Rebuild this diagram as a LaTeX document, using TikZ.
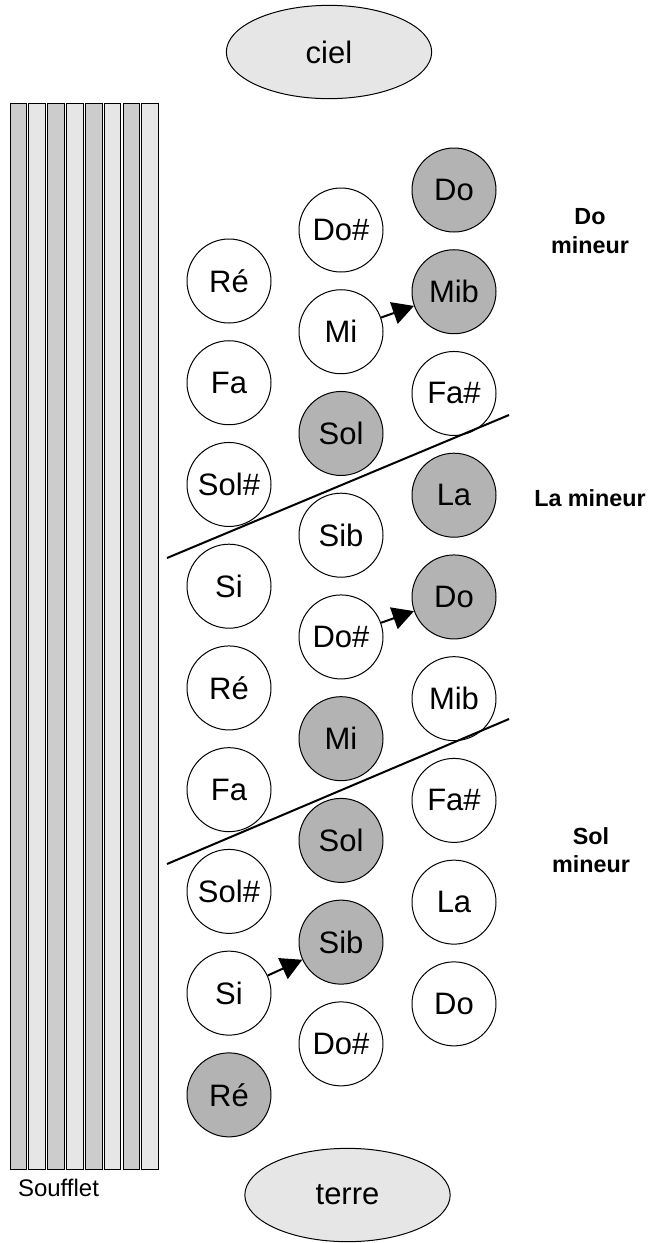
\documentclass[tikz,border=0pt]{standalone}
\usepackage{fontspec}
\setmainfont{Liberation Sans}
\usetikzlibrary{arrows.meta,positioning,shapes.geometric}
\tikzset{>/.tip={Triangle[length=16pt,width=17pt]}}
\definecolor{touche}{HTML}{B3B3B3}
\definecolor{pale}{HTML}{E6E6E6}
\definecolor{fonce}{HTML}{CCCCCC}
\begin{document}
\begin{tikzpicture}[x=0.75pt,y=-0.75pt,node distance=76.3pt,on grid,
  bouton/.style={circle,draw,line width=0.75pt,minimum size=63pt,inner sep=0pt,fill=white,font=\fontsize{23.25}{27}\selectfont},
  tire/.style={bouton,fill=touche},
  pole/.style={ellipse,draw,line width=0.75pt,fill=pale,minimum width=154pt,minimum height=70pt,inner sep=0pt,font=\fontsize{23.25}{27}\selectfont},
  gamme/.style={align=center,font=\bfseries\fontsize{17.5}{21.5}\selectfont},
  trait/.style={line width=1.5pt}]
        \useasboundingbox (0,0) rectangle (652,1243);
        % soufflet
        \foreach \x in {10,47.7,85.4,123.1}
          \filldraw[fill=fonce,line width=0.75pt] (\x,103) rectangle ++(16.7,1066);
        \foreach \x in {28.85,66.55,104.25,141.95}
          \filldraw[fill=pale,line width=0.75pt] (\x,103) rectangle ++(16.7,1066);
        \node(souf) at (58.5,1188){\fontsize{18}{22}\selectfont Soufflet};
        \node(ciel)[pole] at (329,52){ciel};
        \node(terre)[pole] at (347.5,1195){terre};
        % rang exterieur
        \node(Re1)[bouton] at (229,281){Ré};
        \node(Fa1)[bouton,below=of Re1]{Fa};
        \node(Sold1)[bouton,below=of Fa1]{Sol\#};
        \node(Si1)[bouton,below=of Sold1]{Si};
        \node(Re2)[bouton,below=of Si1]{Ré};
        \node(Fa2)[bouton,below=of Re2]{Fa};
        \node(Sold2)[bouton,below=of Fa2]{Sol\#};
        \node(Si2)[bouton,below=of Sold2]{Si};
        \node(Re3)[tire,below=of Si2]{Ré};
        % rang du milieu
        \node(Dod1)[bouton] at (341,230){Do\#};
        \node(Mi1)[bouton,below=of Dod1]{Mi};
        \node(Sol1)[tire,below=of Mi1]{Sol};
        \node(Sib1)[bouton,below=of Sol1]{Sib};
        \node(Dod2)[bouton,below=of Sib1]{Do\#};
        \node(Mi2)[tire,below=of Dod2]{Mi};
        \node(Sol2)[tire,below=of Mi2]{Sol};
        \node(Sib2)[tire,below=of Sol2]{Sib};
        \node(Dod3)[bouton,below=of Sib2]{Do\#};
        % rang interieur
        \node(Do1)[tire] at (454,190){Do};
        \node(Mib1)[tire,below=of Do1]{Mib};
        \node(Fad1)[bouton,below=of Mib1]{Fa\#};
        \node(La1)[tire,below=of Fad1]{La};
        \node(Do2)[tire,below=of La1]{Do};
        \node(Mib2)[bouton,below=of Do2]{Mib};
        \node(Fad2)[bouton,below=of Mib2]{Fa\#};
        \node(La2)[bouton,below=of Fad2]{La};
        \node(Do3)[bouton,below=of La2]{Do};
        % gammes
        \node(gDo)[gamme] at (590,231){Do\\mineur};
        \node(gLa)[gamme] at (590,498){La mineur};
        \node(gSol)[gamme] at (591,850){Sol\\mineur};
        \coordinate(g1) at (167,558);
        \coordinate(d1) at (509,415);
        \coordinate(g2) at (167,864);
        \coordinate(d2) at (509,719);
        \draw[trait] (g1) -- (d1);
        \draw[trait] (g2) -- (d2);
        \draw[trait,->]
        (Mi1) edge (Mib1)
        (Dod2) edge (Do2)
        (Si2) edge (Sib2);
      \end{tikzpicture}
\end{document}
